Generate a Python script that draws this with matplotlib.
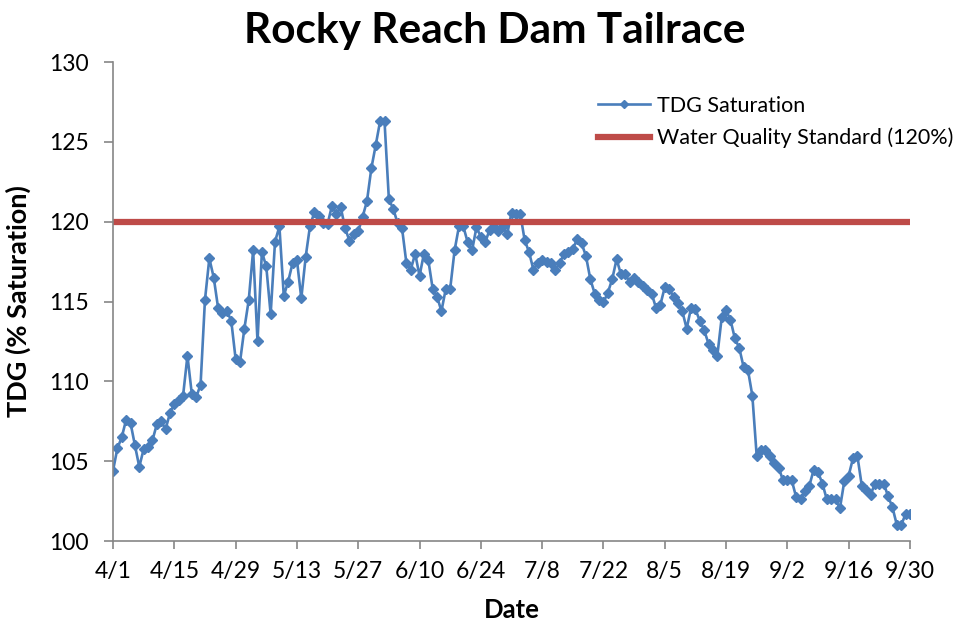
import matplotlib

matplotlib.use('Agg')
import matplotlib.pyplot as plt
import numpy as np

plt.rcParams['font.family'] = ['Lato', 'DejaVu Sans']

# Dane dzienne 4/1 - 9/30
tdg = [
    104.4, 105.8, 106.5, 107.6, 107.4, 106.0, 104.65, 105.75, 105.9, 106.3,
    107.3, 107.5, 107.0, 108.0, 108.6, 108.8, 109.1, 111.6, 109.2, 109.0,
    109.8, 115.1, 117.7, 116.5, 114.6, 114.3, 114.4, 113.8, 111.4, 111.2,
    113.3, 115.1, 118.2, 112.5, 118.1, 117.2, 114.2, 118.75, 119.7, 115.35,
    116.25, 117.4, 117.6, 115.2, 117.8, 119.75, 120.6, 120.35, 119.9, 119.85,
    121.0, 120.5, 120.9, 119.6, 118.8, 119.2, 119.4, 120.3, 121.3, 123.35,
    124.8, 126.3, 126.3, 121.4, 120.8, 119.9, 119.6, 117.4, 117.0, 118.0,
    116.6, 118.0, 117.6, 115.8, 115.3, 114.4, 115.8, 115.8, 118.2, 119.7,
    119.7, 118.7, 118.2, 119.65, 119.05, 118.7, 119.5, 119.65, 119.4, 119.7,
    119.2, 120.55, 120.45, 120.5, 118.85, 118.1, 117.0, 117.4, 117.6, 117.5,
    117.4, 117.0, 117.4, 118.0, 118.1, 118.3, 118.9, 118.65, 117.85, 116.4,
    115.5, 115.1, 114.95, 115.55, 116.4, 117.65, 116.7, 116.7, 116.2, 116.5,
    116.25, 115.95, 115.7, 115.5, 114.6, 114.8, 115.9, 115.8, 115.3, 114.9,
    114.4, 113.3, 114.6, 114.5, 113.8, 113.2, 112.35, 111.95, 111.6, 114.0,
    114.45, 113.85, 112.7, 112.1, 110.9, 110.7, 109.1, 105.3, 105.7, 105.7,
    105.3, 104.9, 104.6, 103.8, 103.8, 103.8, 102.75, 102.6, 103.15, 103.45,
    104.45, 104.3, 103.6, 102.6, 102.6, 102.6, 102.05, 103.75, 104.1, 105.2,
    105.3, 103.45, 103.2, 102.9, 103.6, 103.6, 103.6, 102.8, 102.1, 101.0,
    101.0, 101.7, 101.7,
]
days = np.arange(len(tdg))
standard = [120] * len(tdg)

tick_days = [0, 14, 28, 42, 56, 70, 84, 98, 112, 126, 140, 154, 168, 182]
tick_labels = ['4/1', '4/15', '4/29', '5/13', '5/27', '6/10', '6/24',
               '7/8', '7/22', '8/5', '8/19', '9/2', '9/16', '9/30']
y_ticks = [100, 105, 110, 115, 120, 125, 130]

fig = plt.figure(figsize=(9.61, 6.28), dpi=100)
ax = fig.add_axes([113 / 961, 1 - 541 / 628, (910 - 113) / 961, (541 - 62) / 628])

ax.plot(days, tdg, color='#4A7EBB', lw=1.9, marker='D', markersize=5.3,
        label='TDG Saturation')
ax.plot(days, standard, color='#BE4B48', lw=4.5,
        label='Water Quality Standard (120%)')

ax.set_xlim(0, 182)
ax.set_ylim(100, 130)
ax.set_xticks(tick_days)
ax.set_xticklabels(tick_labels)
ax.set_yticks(y_ticks)

for s in ['top', 'right']:
    ax.spines[s].set_visible(False)
for s in ['left', 'bottom']:
    ax.spines[s].set_color('#868686')
    ax.spines[s].set_linewidth(1.2)
ax.tick_params(axis='both', colors='#868686', labelcolor='black', labelsize=16.5,
               width=1.2)
ax.tick_params(axis='x', length=5.5, pad=9)
ax.tick_params(axis='y', length=6.5, pad=11)

ax.set_xlabel('Date', fontsize=18.5, fontweight='bold')
ax.xaxis.set_label_coords(0.5, -0.118)
ax.set_ylabel('TDG (% Saturation)', fontsize=19.5, fontweight='bold')
ax.yaxis.set_label_coords(-0.103, 0.5)
fig.text(495 / 961, 1 - 43 / 628, 'Rocky Reach Dam Tailrace', fontsize=30.5,
         fontweight='bold', ha='center', va='baseline')

ax.legend(loc='upper left', bbox_to_anchor=(589 / 961, 1 - 87 / 628),
          bbox_transform=fig.transFigure, frameon=False, fontsize=15.5,
          handlelength=2.45, handletextpad=0.3, labelspacing=0.55,
          borderaxespad=0, markerscale=0.8)

fig.savefig('out.png', dpi=100)
plt.close()
